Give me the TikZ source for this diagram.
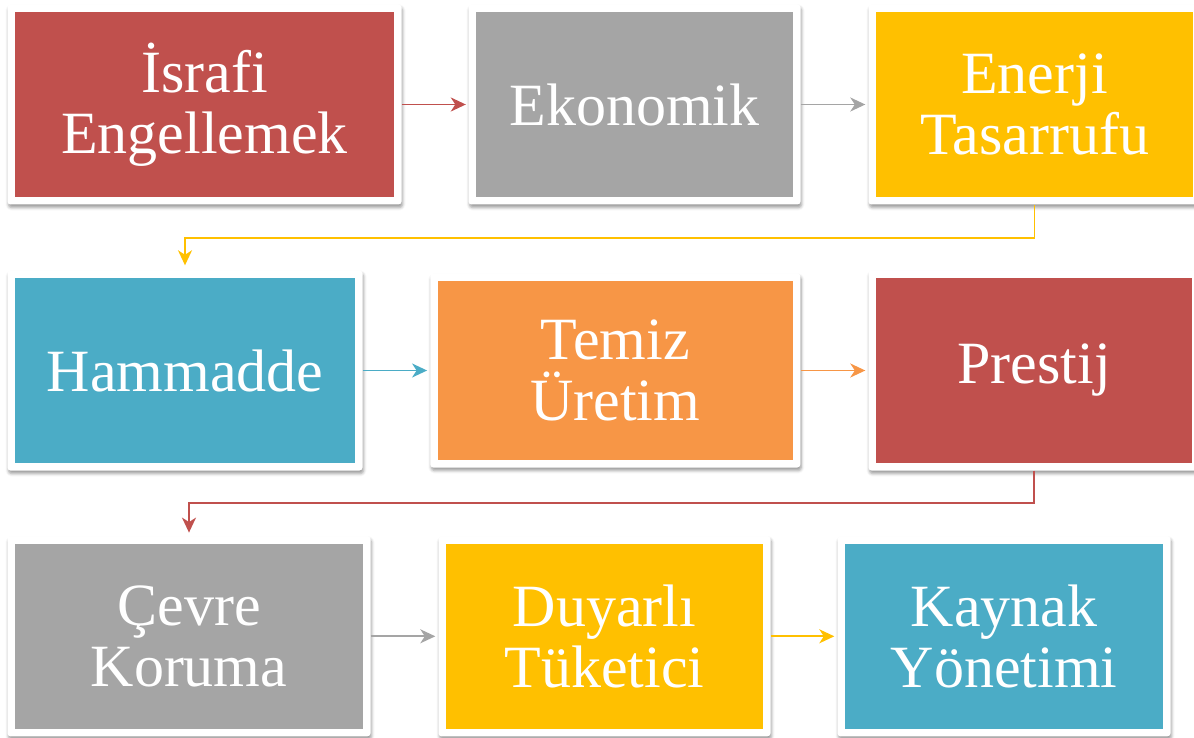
\documentclass[tikz,border=0pt]{standalone}
\usepackage{fontspec}
\setmainfont{Liberation Serif}
\usetikzlibrary{arrows.meta,shadows.blur}
\definecolor{cardred}{HTML}{C0504D}
\definecolor{cardgray}{HTML}{A5A5A5}
\definecolor{cardgold}{HTML}{FFC000}
\definecolor{cardblue}{HTML}{4BACC6}
\definecolor{cardorange}{HTML}{F79646}
\tikzset{
  card/.style={rectangle,fill=white,rounded corners=3pt,inner sep=0pt,
    text=white,align=center,font=\fontsize{60}{61}\selectfont,
    blur shadow={shadow xshift=1pt,shadow yshift=-3pt,shadow blur radius=3pt,shadow opacity=40},
    path picture={\fill[#1,sharp corners] ([shift={(7.5pt,7.5pt)}]path picture bounding box.south west)
      rectangle ([shift={(-7.5pt,-7.5pt)}]path picture bounding box.north east);}},
  link/.style={-{Stealth[length=15pt,width=14pt,inset=4.5pt]},line width=1.8pt,#1}
}

\begin{document}
\begin{tikzpicture}[x=1pt,y=-1pt]
    \useasboundingbox (0,0) rectangle (1194,738);
    % first row
    \node[card=cardred,minimum width=394pt,minimum height=200pt] (israf) at (204.5,104.5) {İsrafi\\Engellemek};
    \node[card=cardgray,minimum width=332pt,minimum height=200pt] (ekonomik) at (634.5,104.5) {Ekonomik};
    \node[card=cardgold,minimum width=332pt,minimum height=200pt] (enerji) at (1034.5,104.5) {Enerji\\Tasarrufu};
    % second row
    \node[card=cardblue,minimum width=355pt,minimum height=200pt] (hammadde) at (185,370.5) {Hammadde};
    \node[card=cardorange,minimum width=370pt,minimum height=194pt] (temiz) at (615.3,370.5) {Temiz\\Üretim};
    \node[card=cardred,minimum width=331pt,minimum height=200pt] (prestij) at (1034,370.5) {Prestij};
    % third row
    \node[card=cardgray,minimum width=363pt,minimum height=200pt] (cevre) at (189,636.3) {Çevre\\Koruma};
    \node[card=cardgold,minimum width=332pt,minimum height=200pt] (duyarli) at (604.5,636.3) {Duyarlı\\Tüketici};
    \node[card=cardblue,minimum width=333pt,minimum height=200pt] (kaynak) at (1004,636.3) {Kaynak\\Yönetimi};
    % connectors
    \draw[link=cardred,shorten >=2.5pt] (israf) -- (ekonomik);
    \draw[link=cardgray,shorten >=3pt] (ekonomik) -- (enerji);
    \draw[link=cardgold,shorten >=5pt] (enerji.south) -- ++(0,33) -| (hammadde.north);
    \draw[link=cardblue,shorten >=3pt] (hammadde) -- (temiz);
    \draw[link=cardorange,shorten >=3pt] (temiz) -- (prestij);
    \draw[link=cardred,shorten >=3.5pt] (prestij.south) -- ++(0,32.5) -| (cevre.north);
    \draw[link=cardgray,shorten >=3pt] (cevre) -- (duyarli);
    \draw[link=cardgold,shorten >=3pt] (duyarli) -- (kaynak);
  \end{tikzpicture}
\end{document}
